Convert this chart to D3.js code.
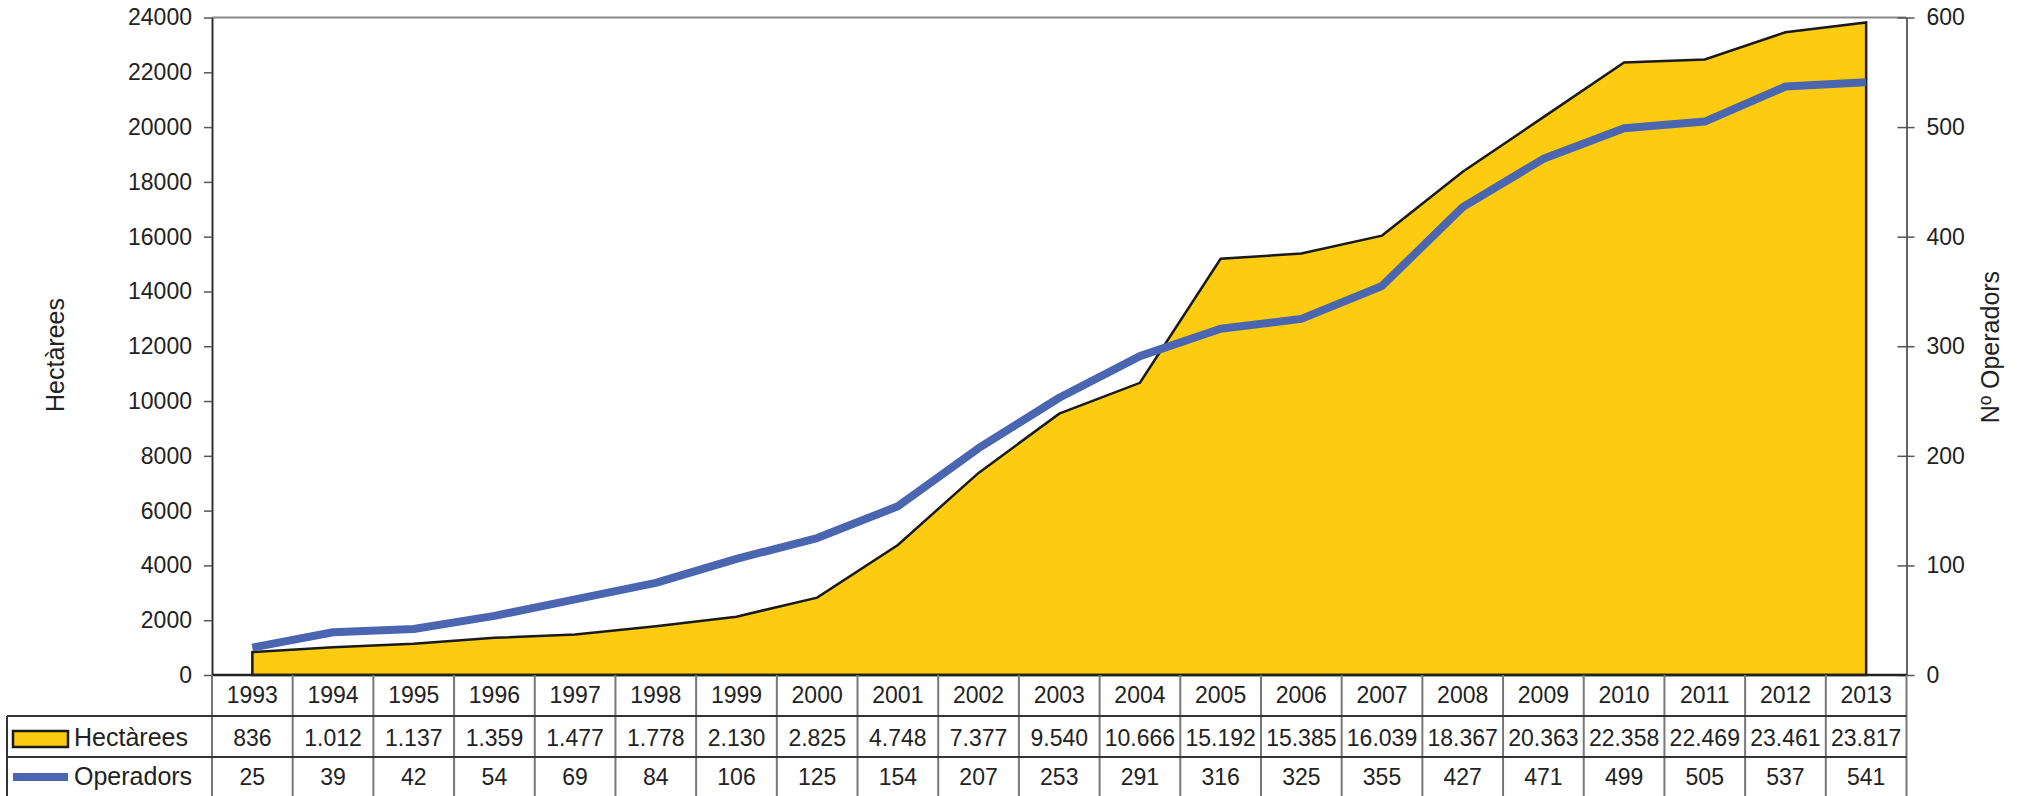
<!DOCTYPE html>
<html>
<head>
<meta charset="utf-8">
<script src="https://cdn.jsdelivr.net/npm/d3@7"></script>
<style>
  body { margin: 0; background: #fff; }
  text { font-family: "Liberation Sans", Arial, sans-serif; fill: #222; }
</style>
</head>
<body>
<svg id="chart" width="2019" height="796"></svg>
<script>
// data
const years = ["1993","1994","1995","1996","1997","1998","1999","2000","2001","2002","2003",
               "2004","2005","2006","2007","2008","2009","2010","2011","2012","2013"];
const hectarees = [836,1012,1137,1359,1477,1778,2130,2825,4748,7377,9540,
                   10666,15192,15385,16039,18367,20363,22358,22469,23461,23817];
const operadors = [25,39,42,54,69,84,106,125,154,207,253,291,316,325,355,427,471,499,505,537,541];
const leftTicks = d3.range(0, 24001, 2000);
const rightTicks = d3.range(0, 601, 100);

const yellow = "#FDCB0F";
const blue = "#4A66B0";

const svg = d3.select("#chart");

// plot box
const plotL = 212, plotR = 1906.5, plotT = 17.5, plotB = 675;
const rowH = [675, 716, 757, 797];

const x = d3.scaleBand().domain(years).range([plotL, plotR]);
const yL = d3.scaleLinear().domain([0, 24000]).range([plotB, plotT]);
const yR = d3.scaleLinear().domain([0, 600]).range([plotB, plotT]);
const cx = d => x(d) + x.bandwidth() / 2;

// frame: top border in grey
svg.append("line").attr("x1", plotL).attr("x2", plotR).attr("y1", plotT).attr("y2", plotT)
  .attr("stroke", "#888").attr("stroke-width", 2);

// area for hectàrees
const area = d3.area()
  .x((d, i) => cx(years[i]))
  .y0(yL(0))
  .y1(d => yL(d));
svg.append("path")
  .datum(hectarees)
  .attr("d", area)
  .attr("fill", yellow)
  .attr("stroke", "#1a1a1a")
  .attr("stroke-width", 2.5)
  .attr("stroke-linejoin", "miter");

// line for operadors
const line = d3.line()
  .x((d, i) => cx(years[i]))
  .y(d => yR(d));
svg.append("path")
  .datum(operadors)
  .attr("d", line)
  .attr("fill", "none")
  .attr("stroke", blue)
  .attr("stroke-width", 8)
  .attr("stroke-linejoin", "round");

// left axis
const gL = svg.append("g")
  .attr("transform", `translate(${plotL},0)`)
  .call(d3.axisLeft(yL).tickValues(leftTicks).tickFormat(d3.format("d")).tickSize(8).tickPadding(12).tickSizeOuter(0));
gL.select(".domain").attr("stroke", "#333").attr("stroke-width", 2);
gL.selectAll(".tick line").attr("stroke", "#555").attr("stroke-width", 1.5);
gL.selectAll(".tick text").style("font-size", "23px").attr("fill", "#222");

// right axis
const gR = svg.append("g")
  .attr("transform", `translate(${plotR},0)`)
  .call(d3.axisRight(yR).tickValues(rightTicks).tickSize(8).tickPadding(12).tickSizeOuter(0));
gR.select(".domain").attr("stroke", "#333").attr("stroke-width", 1.5);
gR.selectAll(".tick line").attr("x1", -9).attr("stroke", "#555").attr("stroke-width", 1.5);
gR.selectAll(".tick text").style("font-size", "23px").attr("fill", "#222");

// axis titles
svg.append("text")
  .attr("transform", "translate(55,355) rotate(-90)")
  .attr("text-anchor", "middle").attr("dy", "0.35em")
  .style("font-size", "25px")
  .text("Hectàrees");
svg.append("text")
  .attr("transform", "translate(1990,347) rotate(-90)")
  .attr("text-anchor", "middle").attr("dy", "0.35em")
  .style("font-size", "25px")
  .text("Nº Operadors");

// bottom axis line
svg.append("line").attr("x1", plotL).attr("x2", plotR).attr("y1", plotB).attr("y2", plotB)
  .attr("stroke", "#222").attr("stroke-width", 2.5);

// data table
const table = svg.append("g");
const bounds = years.map(d => x(d)).concat([plotR]);
table.selectAll("line.v")
  .data(bounds)
  .join("line")
  .attr("x1", d => d).attr("x2", d => d)
  .attr("y1", plotB).attr("y2", 797)
  .attr("stroke", "#777").attr("stroke-width", 2);
table.append("line").attr("x1", 7).attr("x2", 7).attr("y1", rowH[1]).attr("y2", 797)
  .attr("stroke", "#333").attr("stroke-width", 2);
[rowH[1], rowH[2]].forEach(y => {
  table.append("line").attr("x1", 7).attr("x2", plotR).attr("y1", y).attr("y2", y)
    .attr("stroke", "#333").attr("stroke-width", 2);
});

const rows = [
  { vals: years, base: 703 },
  { vals: hectarees.map(v => v >= 1000 ? d3.format(",")(v).replace(/,/g, ".") : String(v)), base: 746 },
  { vals: operadors.map(String), base: 785 }
];
rows.forEach(r => {
  table.append("g").selectAll("text")
    .data(r.vals)
    .join("text")
    .attr("x", (d, i) => cx(years[i]))
    .attr("y", r.base)
    .attr("text-anchor", "middle")
    .style("font-size", "23px")
    .text(d => d);
});

// legend cells
table.append("rect").attr("x", 13).attr("y", 731).attr("width", 55).attr("height", 16)
  .attr("fill", yellow).attr("stroke", "#1a1a1a").attr("stroke-width", 2.5);
table.append("text").attr("x", 74).attr("y", 746).style("font-size", "25px").text("Hectàrees");
table.append("line").attr("x1", 13).attr("x2", 68).attr("y1", 777).attr("y2", 777)
  .attr("stroke", blue).attr("stroke-width", 8);
table.append("text").attr("x", 74).attr("y", 785).style("font-size", "25px").text("Operadors");
</script>
</body>
</html>
